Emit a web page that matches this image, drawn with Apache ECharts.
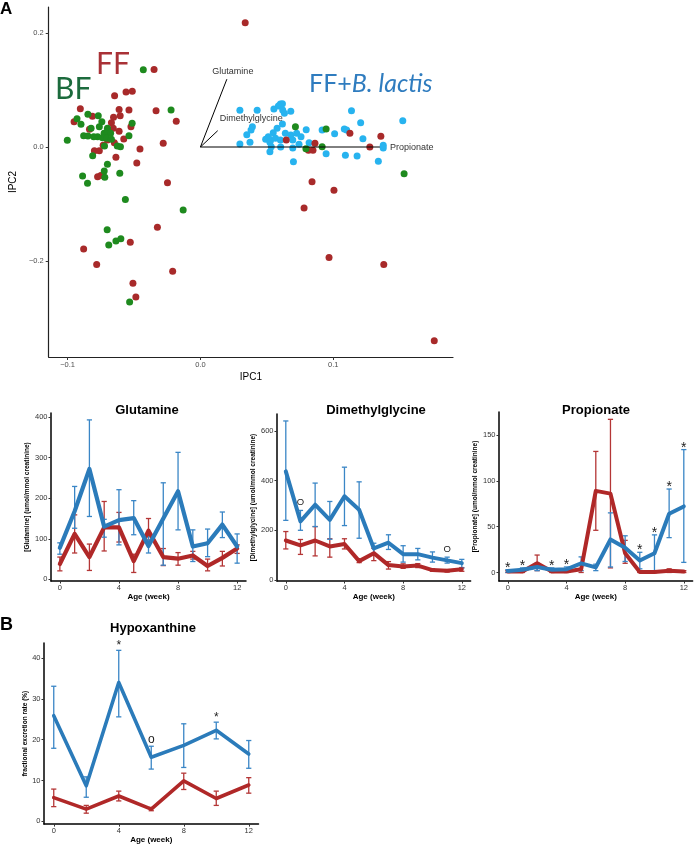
<!DOCTYPE html>
<html><head><meta charset="utf-8">
<script src="https://cdn.jsdelivr.net/npm/echarts@6/dist/echarts.min.js"></script>
<style>html,body{margin:0;padding:0;background:#fff}#c{width:696px;height:845px}</style>
</head><body><div id="c"></div>
<script>
// ---------- Panel A: PCA scatter ----------
const ffPoints = [[0.0337,0.218],[-0.0349,0.136],[-0.056,0.0965],[-0.0513,0.0977],[-0.0646,0.090],[-0.0904,0.0673],[-0.0612,0.066],[-0.0538,0.0649],[-0.0334,0.0637],[-0.0951,0.0444],[-0.0813,0.0538],[-0.0654,0.0521],[-0.0604,0.0549],[-0.0182,0.0451],[-0.067,0.0427],[-0.0656,0.0328],[-0.0523,0.0357],[-0.0835,0.031],[-0.0612,0.0275],[-0.0577,0.014],[-0.028,0.0064],[-0.0648,0.0076],[-0.0732,0.003],[-0.0455,-0.0035],[-0.0798,-0.0064],[-0.0761,-0.0064],[-0.0636,-0.018],[-0.0479,-0.028],[-0.0248,-0.0626],[-0.0774,-0.052],[-0.075,-0.050],[-0.070,0.0123],[-0.0324,-0.141],[-0.0528,-0.167],[-0.0879,-0.179],[-0.0781,-0.206],[-0.0209,-0.218],[-0.0508,-0.239],[-0.0486,-0.263],[0.084,-0.061],[0.1005,-0.076],[0.078,-0.107],[0.0968,-0.194],[0.138,-0.206],[0.176,-0.340],[0.0646,0.0123],[0.0862,0.0064],[0.0813,-0.0058],[0.0847,-0.0058],[0.1125,0.024],[0.1358,0.0187],[0.1275,0]];
const bfPoints = [[-0.043,0.1357],[-0.0221,0.065],[-0.0929,0.0497],[-0.0847,0.0573],[-0.0769,0.0549],[-0.0899,0.0398],[-0.0514,0.0415],[-0.1002,0.0117],[-0.0879,0.0199],[-0.0847,0.0193],[-0.0823,0.0327],[-0.0761,0.0357],[-0.0742,0.0444],[-0.070,0.0327],[-0.0725,0.024],[-0.070,0.0269],[-0.0676,0.024],[-0.0737,0.0164],[-0.0705,0.0152],[-0.067,0.0135],[-0.0774,0.0182],[-0.0803,0.0182],[-0.0626,0.0018],[-0.0602,0.0006],[-0.0538,0.0199],[-0.0722,0.0018],[-0.0811,-0.0152],[-0.070,-0.0304],[-0.0724,-0.042],[-0.072,-0.0532],[-0.0887,-0.0509],[-0.0607,-0.0462],[-0.085,-0.0637],[-0.0565,-0.092],[-0.013,-0.1105],[-0.0702,-0.145],[-0.069,-0.172],[-0.0636,-0.165],[-0.0599,-0.161],[-0.0533,-0.272],[0.0715,0.0357],[0.0946,0.0316],[0.0794,-0.003],[0.0916,0.0006],[0.1533,-0.0468]];
const ffbPoints = [[0.0297,0.0643],[0.0427,0.0643],[0.0553,0.0667],[0.0602,0.0754],[0.0617,0.076],[0.0587,0.072],[0.0619,0.065],[0.0632,0.059],[0.068,0.0626],[0.1137,0.0637],[0.1523,0.0462],[0.1206,0.0427],[0.0391,0.0357],[0.0381,0.0298],[0.0349,0.0216],[0.0617,0.0404],[0.0577,0.0327],[0.0548,0.0252],[0.0511,0.0182],[0.0491,0.0135],[0.0528,0.0123],[0.0565,0.0152],[0.0602,0.0123],[0.0639,0.024],[0.068,0.021],[0.0695,0.0123],[0.0724,0.024],[0.0757,0.0182],[0.0796,0.0304],[0.0916,0.0298],[0.1083,0.0316],[0.11,0.0298],[0.101,0.0234],[0.1223,0.0146],[0.0297,0.0053],[0.0373,0.0082],[0.0523,0.0082],[0.0533,0.0006],[0.0523,-0.0082],[0.0604,0],[0.0695,-0.0018],[0.0742,0.0047],[0.0818,0.0076],[0.0946,-0.0117],[0.1091,-0.0146],[0.1179,-0.0158],[0.1376,0.003],[0.1376,-0.0018],[0.1339,-0.0251],[0.070,-0.0257]];
const loadingNames = ['Glutamine','Dimethylglycine','Propionate'];
const loadingX = [0.0199, 0.013, 0.1351];
const loadingY = [0.119, 0.0286, 0];
const scatterXTicks = [-0.1, 0, 0.1];
const scatterYTicks = [-0.2, 0, 0.2];

// ---------- Time courses (weeks) ----------
const weeks = [0,1,2,3,4,5,6,7,8,9,10,11,12];
const weekTicks = [0,4,8,12];

const glnBlue   = [78,168,272,130,146,151,82,150,217,81,89,135,81];
const glnBlueLo = [62,126,155,104,85,110,65,35,122,44,56,103,40];
const glnBlueHi = [90,229,393,148,221,194,105,238,313,122,124,166,112];
const glnRed    = [38,112,55,128,128,45,120,55,51,59,33,53,76];
const glnRedLo  = [21,65,22,70,92,17,97,34,35,50,21,33,64];
const glnRedHi  = [55,159,87,192,165,62,150,76,66,69,50,69,85];
const glnTicks  = [0,100,200,300,400];

const dmgBlue   = [437,236,303,242,337,283,127,150,104,104,90,79,68];
const dmgBlueLo = [240,200,215,164,219,168,105,123,72,81,72,68,48];
const dmgBlueHi = [640,280,390,316,454,395,148,182,138,127,113,92,83];
const dmgRed    = [159,139,159,135,145,76,108,60,54,58,40,37,43];
const dmgRedLo  = [125,103,97,92,125,70,78,44,47,50,35,32,35];
const dmgRedHi  = [195,163,215,166,166,82,128,74,65,66,45,42,50];
const dmgTicks  = [0,200,400,600];
const dmgMarks  = ['','O','','','','','','','','','','O',''];

const propBlue   = [1.5,3,6,3,3.5,10,5.5,36,27,13,21,64,72];
const propBlueLo = [0,1,2,1,1,2,2,6,12,4,0,38,11];
const propBlueHi = [3,5,10,5,6,17,9,65,40,22,41,91,134];
const propRed    = [1,1,10,1,1,3.5,89,86,21,0.5,0.5,2,1];
const propRedLo  = [0,0,2,0,0,0,46,5,10,0,0,0,0];
const propRedHi  = [2,2,19,2,2,8,132,167,35,1,1,4,2];
const propTicks  = [0,50,100,150];
const propMarks  = ['*','*','','*','*','','','','','*','*','*','*'];

// ---------- Panel B: Hypoxanthine ----------
const hypWeeks  = [0,2,4,6,8,10,12];
const hypBlue   = [25.9,8.7,34,15.7,18.6,22.3,16.5];
const hypBlueLo = [17.9,5.9,25.6,12.8,13.2,20.2,13];
const hypBlueHi = [33.1,10.9,41.9,18.4,23.9,24.3,19.8];
const hypRed    = [5.8,3.0,6.2,3.0,9.9,5.6,8.9];
const hypRedLo  = [3.6,2.0,5.0,2.6,7.8,3.9,6.9];
const hypRedHi  = [7.9,3.9,7.4,3.4,11.8,7.4,10.7];
const hypTicks  = [0,10,20,30,40];
const hypMarks  = ['','','*','o','','*',''];

// ---------- styling ----------
const F = "'Liberation Sans', Arial, sans-serif";
const BLUE = '#2B7BBA', RED = '#B02828';
const BLUE_E = '#3A86C6', RED_E = '#B43636';
const C_FF = '#A82A2A', C_BF = '#1E8A1E', C_FFB = '#27B3EF';

const chart = echarts.init(document.getElementById('c'), null, {renderer:'canvas', width:696, height:845});

function fmtSigned(v){ return (v < -1e-9 ? '\u2212' : '') + Math.abs(v).toFixed(1); }

function xAxisLine(gi, min, max, name, gap){
  return {gridIndex:gi, type:'value', min:min, max:max,
    splitLine:{show:false},
    axisLine:{onZero:false, lineStyle:{color:'#000', width:1.5}},
    axisTick:{customValues:weekTicks, length:2.5, lineStyle:{color:'#333', width:1}},
    axisLabel:{customValues:weekTicks, fontSize:7.5, color:'#333', margin:3, fontFamily:F},
    name:name, nameLocation:'middle', nameGap:gap,
    nameTextStyle:{fontSize:8, fontWeight:'bold', color:'#000', fontFamily:F}};
}
function yAxisLine(gi, min, max, ticks, name, gap){
  return {gridIndex:gi, type:'value', min:min, max:max,
    splitLine:{show:false},
    axisLine:{onZero:false, lineStyle:{color:'#000', width:1.5}},
    axisTick:{customValues:ticks, length:2.5, lineStyle:{color:'#333', width:1}},
    axisLabel:{customValues:ticks, fontSize:7.5, color:'#333', margin:3.5, fontFamily:F},
    name:name, nameLocation:'middle', nameGap:gap, nameRotate:90,
    nameTextStyle:{fontSize:6.5, fontWeight:'bold', color:'#000', fontFamily:F}};
}
function errSeries(ai, xs, lo, hi, color, z){
  return {type:'custom', xAxisIndex:ai, yAxisIndex:ai, z:z, silent:true, animation:false,
    data: xs.map((x,i)=>[x, lo[i], hi[i]]),
    encode:{x:0, y:[1,2]},
    renderItem:(params, api)=>{
      const x = api.value(0);
      const a = api.coord([x, api.value(2)]), b = api.coord([x, api.value(1)]);
      const w = 2.6, st = {stroke:color, lineWidth:1.3};
      return {type:'group', children:[
        {type:'line', shape:{x1:a[0],y1:a[1],x2:b[0],y2:b[1]}, style:st},
        {type:'line', shape:{x1:a[0]-w,y1:a[1],x2:a[0]+w,y2:a[1]}, style:st},
        {type:'line', shape:{x1:b[0]-w,y1:b[1],x2:b[0]+w,y2:b[1]}, style:st}
      ]};
    }};
}
function lineSeries(ai, xs, ys, color, width, z){
  return {type:'line', xAxisIndex:ai, yAxisIndex:ai, z:z, silent:true, animation:false,
    data: xs.map((x,i)=>[x, ys[i]]), showSymbol:false, symbol:'none',
    lineStyle:{color:color, width:width, join:'round', cap:'round'}, itemStyle:{color:color}};
}
function markSeries(ai, xs, hiA, hiB, marks, fontSize, dy){
  const idx = marks.map((m,i)=> m ? i : -1).filter(i=>i>=0);
  return {type:'custom', xAxisIndex:ai, yAxisIndex:ai, z:6, silent:true, animation:false,
    data: idx.map(i=>[xs[i], Math.max(hiA[i], hiB[i])]),
    renderItem:(params, api)=>{
      const p = api.coord([api.value(0), api.value(1)]);
      const m = marks[idx[params.dataIndex]];
      const extra = (m === '*') ? fontSize * 0.22 : 0;
      return {type:'text', x:p[0], y:p[1] + dy + extra,
        style:{text:m, fill:'#222', fontSize:fontSize, fontFamily:F,
          align:'center', verticalAlign:'middle', textAlign:'center', textVerticalAlign:'middle'}};
    }};
}

const loadLabelLayout = [
  {dx:6, dy:-8, align:'center'},
  {dx:2, dy:-12, align:'left'},
  {dx:10, dy:1, align:'left'}
];

const option = {
  backgroundColor:'#fff',
  animation:false,
  grid:[
    {left:40, top:7, width:413, height:350},
    {left:51, top:413, width:195, height:168},
    {left:277, top:414, width:193.6, height:167},
    {left:499, top:412, width:193.6, height:169},
    {left:44, top:643, width:214.5, height:183}
  ],
  xAxis:[
    {gridIndex:0, type:'value', min:-0.1142, max:0.1901, splitLine:{show:false},
      axisLine:{onZero:false, lineStyle:{color:'#222', width:1.2}},
      axisTick:{customValues:scatterXTicks, length:3, lineStyle:{color:'#333'}},
      axisLabel:{customValues:scatterXTicks, formatter:fmtSigned, fontSize:7.5, color:'#4d4d4d', margin:4, fontFamily:F},
      name:'IPC1', nameLocation:'middle', nameGap:15, nameTextStyle:{fontSize:10, color:'#000', fontFamily:F}},
    xAxisLine(1, -0.6, 12.6, 'Age (week)', 10),
    xAxisLine(2, -0.6, 12.6, 'Age (week)', 10),
    xAxisLine(3, -0.6, 12.6, 'Age (week)', 10),
    xAxisLine(4, -0.6, 12.6, 'Age (week)', 10)
  ],
  yAxis:[
    {gridIndex:0, type:'value', min:-0.3684, max:0.2456, splitLine:{show:false},
      axisLine:{onZero:false, lineStyle:{color:'#222', width:1.2}},
      axisTick:{customValues:scatterYTicks, length:3, lineStyle:{color:'#333'}},
      axisLabel:{customValues:scatterYTicks, formatter:fmtSigned, fontSize:7.5, color:'#4d4d4d', margin:5, fontFamily:F},
      name:'IPC2', nameLocation:'middle', nameGap:19, nameRotate:90, nameTextStyle:{fontSize:10, color:'#000', fontFamily:F}},
    yAxisLine(1, -4, 410, glnTicks, '[Glutamine] (umol/mmol creatinine)', 16),
    yAxisLine(2, -4, 668, dmgTicks, '[Dimethylglycine] (umol/mmol creatinine)', 20),
    yAxisLine(3, -9.3, 175, propTicks, '[Propionate] (umol/mmol creatinine)', 16),
    yAxisLine(4, -0.68, 43.7, hypTicks, 'fractional excretion rate (%)', 15)
  ],
  series:[
    {type:'scatter', xAxisIndex:0, yAxisIndex:0, data:ffbPoints, symbolSize:7, z:2, silent:true, itemStyle:{color:C_FFB, opacity:1}},
    {type:'scatter', xAxisIndex:0, yAxisIndex:0, data:ffPoints, symbolSize:7, z:3, silent:true, itemStyle:{color:C_FF, opacity:1}},
    {type:'scatter', xAxisIndex:0, yAxisIndex:0, data:bfPoints, symbolSize:7, z:4, silent:true, itemStyle:{color:C_BF, opacity:1}},
    {type:'custom', xAxisIndex:0, yAxisIndex:0, z:10, silent:true,
      data: loadingNames.map((n,i)=>[loadingX[i], loadingY[i]]),
      renderItem:(params, api)=>{
        const o = api.coord([0,0]), t = api.coord([api.value(0), api.value(1)]);
        const L = loadLabelLayout[params.dataIndex];
        return {type:'group', children:[
          {type:'line', shape:{x1:o[0],y1:o[1],x2:t[0],y2:t[1]}, style:{stroke:'#000', lineWidth:1}},
          {type:'text', x:t[0]+L.dx, y:t[1]+L.dy, style:{text:loadingNames[params.dataIndex], fontSize:9, fontFamily:F, fill:'#333',
            align:L.align, verticalAlign:'middle', textAlign:L.align, textVerticalAlign:'middle'}}
        ]};
      }},
    // Glutamine
    errSeries(1, weeks, glnRedLo, glnRedHi, RED_E, 2),
    errSeries(1, weeks, glnBlueLo, glnBlueHi, BLUE_E, 2),
    lineSeries(1, weeks, glnRed, RED, 4.2, 3),
    lineSeries(1, weeks, glnBlue, BLUE, 4.2, 4),
    // Dimethylglycine
    errSeries(2, weeks, dmgRedLo, dmgRedHi, RED_E, 2),
    errSeries(2, weeks, dmgBlueLo, dmgBlueHi, BLUE_E, 2),
    lineSeries(2, weeks, dmgRed, RED, 4, 3),
    lineSeries(2, weeks, dmgBlue, BLUE, 4, 4),
    markSeries(2, weeks, dmgBlueHi, dmgRedHi, dmgMarks, 9.5, -8),
    // Propionate
    errSeries(3, weeks, propRedLo, propRedHi, RED_E, 2),
    errSeries(3, weeks, propBlueLo, propBlueHi, BLUE_E, 2),
    lineSeries(3, weeks, propRed, RED, 4, 3),
    lineSeries(3, weeks, propBlue, BLUE, 4, 4),
    markSeries(3, weeks, propBlueHi, propRedHi, propMarks, 14, -5),
    // Hypoxanthine
    errSeries(4, hypWeeks, hypRedLo, hypRedHi, RED_E, 2),
    errSeries(4, hypWeeks, hypBlueLo, hypBlueHi, BLUE_E, 2),
    lineSeries(4, hypWeeks, hypRed, RED, 3.6, 3),
    lineSeries(4, hypWeeks, hypBlue, BLUE, 3.6, 4),
    markSeries(4, hypWeeks, hypBlueHi, hypRedHi, hypMarks, 12, -7)
  ],
  graphic:[
    {type:'text', x:0, y:9, style:{text:'A', fontSize:17, fontWeight:'bold', fontFamily:F, fill:'#000', verticalAlign:'middle', textVerticalAlign:'middle'}},
    {type:'text', x:0, y:625, style:{text:'B', fontSize:18, fontWeight:'bold', fontFamily:F, fill:'#000', verticalAlign:'middle', textVerticalAlign:'middle'}},
    {type:'text', x:147, y:410, style:{text:'Glutamine', fontSize:13, fontWeight:'bold', fontFamily:F, fill:'#000', align:'center', textAlign:'center', verticalAlign:'middle', textVerticalAlign:'middle'}},
    {type:'text', x:376, y:410, style:{text:'Dimethylglycine', fontSize:13, fontWeight:'bold', fontFamily:F, fill:'#000', align:'center', textAlign:'center', verticalAlign:'middle', textVerticalAlign:'middle'}},
    {type:'text', x:596, y:410, style:{text:'Propionate', fontSize:13, fontWeight:'bold', fontFamily:F, fill:'#000', align:'center', textAlign:'center', verticalAlign:'middle', textVerticalAlign:'middle'}},
    {type:'text', x:153, y:628, style:{text:'Hypoxanthine', fontSize:13, fontWeight:'bold', fontFamily:F, fill:'#000', align:'center', textAlign:'center', verticalAlign:'middle', textVerticalAlign:'middle'}},
    {type:'text', x:96, y:64, style:{text:'FF', fontSize:30, fontFamily:'Lato', fill:'#A93136', verticalAlign:'middle', textVerticalAlign:'middle'}},
    {type:'text', x:55, y:89, style:{text:'BF', fontSize:30, fontFamily:'Lato', fill:'#1C6B3D', verticalAlign:'middle', textVerticalAlign:'middle'}},
    {type:'text', x:309, y:84, style:{text:'{a|FF+}{b|B. lactis}', verticalAlign:'middle', textVerticalAlign:'middle',
      rich:{a:{fontSize:25, fontFamily:'Lato', fill:'#2F7CBF', color:'#2F7CBF'}, b:{fontSize:25, fontFamily:'Lato', fontStyle:'italic', fill:'#2F7CBF', color:'#2F7CBF'}}}}
  ]
};
chart.setOption(option);
</script></body></html>
